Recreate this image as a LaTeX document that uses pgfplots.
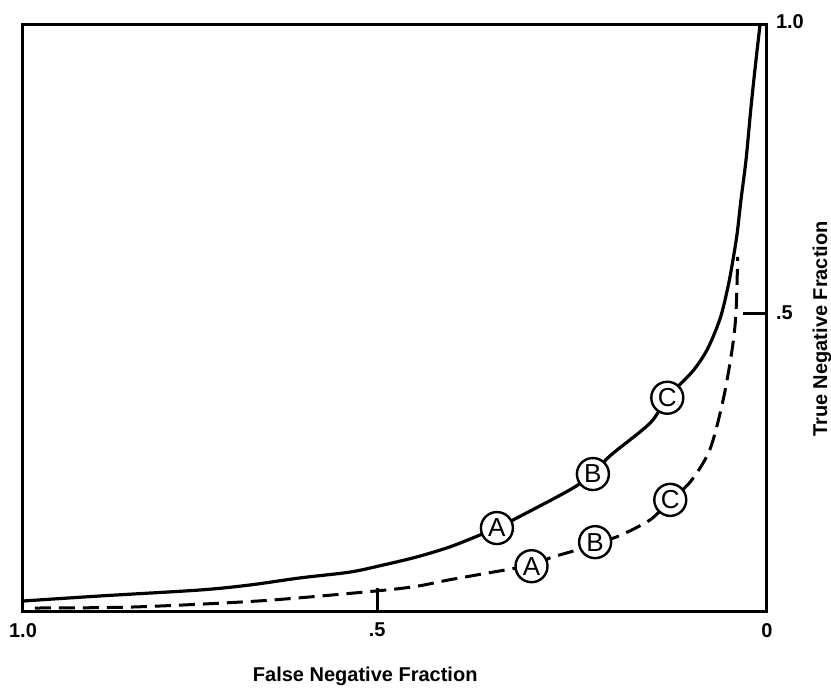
\documentclass[border=0pt]{standalone}
\usepackage{fontspec}
\setmainfont{Liberation Sans}
\usepackage{pgfplots}
\pgfplotsset{compat=1.18}
\begin{document}
\begin{tikzpicture}
\path[use as bounding box] (-11.5pt,-39pt) rectangle (404pt,306pt);
\begin{axis}[
  at={(0,0)}, anchor=south west,
  scale only axis, width=372pt, height=293.5pt,
  xmin=0, xmax=1, ymin=0, ymax=1, x dir=reverse,
  axis line style={line width=1.5pt},
  xtick={0,0.524,1}, xticklabels={0,.5,1.0}, xtick pos=bottom,
  ytick={0.509,1}, yticklabels={.5,\raisebox{3pt}{1.0}}, ytick pos=right, yticklabel pos=right,
  tick align=inside, major tick length=12pt,
  tick style={line width=1.5pt, black},
  ticklabel style={font=\bfseries\fontsize{10}{12}\selectfont},
  xticklabel style={yshift=-2pt},
  yticklabel style={anchor=west, xshift=1pt},
  xlabel={False Negative Fraction}, ylabel={True Negative Fraction},
  label style={font=\bfseries\fontsize{10}{12}\selectfont},
  xlabel style={at={(axis description cs:0.46,0)}, anchor=center, yshift=-32pt},
  ylabel style={at={(axis description cs:1.074,0.482)}, anchor=center},
  clip=false,
]
% solid curve
\addplot[line width=1.6pt, smooth, line join=round] coordinates {
(1.0,0.0187) (0.8965,0.0273) (0.762,0.0375) (0.695,0.046) (0.628,0.058)
(0.5605,0.068) (0.516,0.080) (0.470,0.094) (0.426,0.111) (0.386,0.131)
(0.363,0.143) (0.341,0.157) (0.265,0.208) (0.234,0.235) (0.211,0.266)
(0.157,0.322) (0.134,0.365) (0.100,0.410) (0.080,0.448) (0.063,0.500)
(0.0524,0.554) (0.0457,0.600) (0.040,0.646) (0.035,0.702) (0.0282,0.770)
(0.0215,0.860) (0.0155,0.932) (0.0094,1.0)
};
% dashed curve
\addplot[line width=1.5pt, smooth, dash pattern=on 8pt off 4pt] coordinates {
(0.984,0.0068) (0.852,0.0085) (0.681,0.019) (0.524,0.036) (0.470,0.044)
(0.426,0.055) (0.336,0.075) (0.3165,0.078) (0.292,0.092) (0.255,0.106)
(0.231,0.119) (0.202,0.128) (0.157,0.157) (0.130,0.191) (0.1035,0.221)
(0.077,0.276) (0.059,0.361) (0.047,0.446) (0.0417,0.509) (0.0394,0.605)
};
% circled labels
\addplot[only marks, mark=none, nodes near coords, point meta=explicit symbolic,
  every node near coord/.style={circle, draw=black, line width=1.2pt, fill=white,
    minimum size=16pt, inner sep=0pt, anchor=center,
    font=\fontsize{13}{13}\selectfont}]
coordinates {
(0.363,0.143)[A] (0.234,0.235)[B] (0.134,0.365)[C]
(0.3165,0.078)[A] (0.231,0.119)[B] (0.130,0.191)[C]
};
\end{axis}
\end{tikzpicture}
\end{document}
